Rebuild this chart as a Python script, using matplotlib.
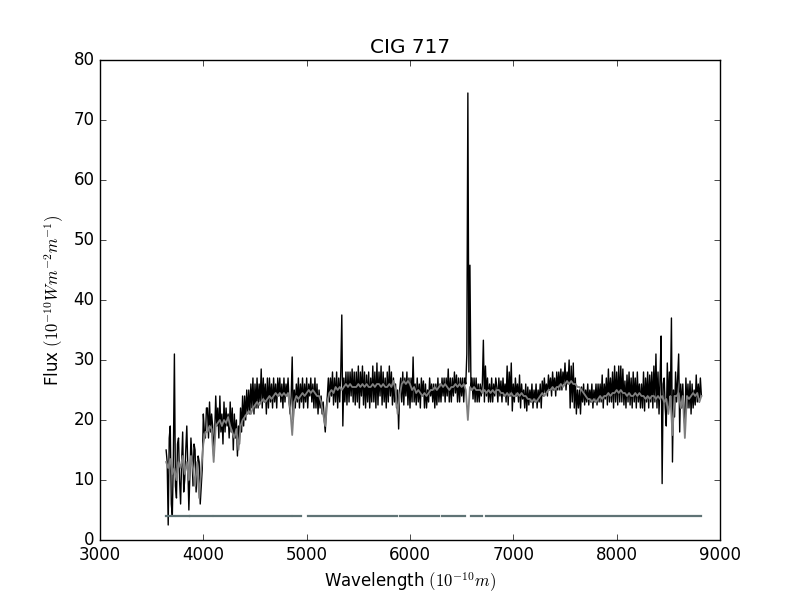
import numpy as np
import matplotlib
matplotlib.use("Agg")
import matplotlib.pyplot as plt

# -----------------------------
# DATA
# -----------------------------

title = "CIG 717"

# observed spectrum: sampled every 10 Angstrom from 3640
obs_start = 3640
obs_step = 10
flux_obs = [
    15, 13, 2.5, 17, 19, 6, 4, 14, 31, 9, 7, 16, 17, 10, 6, 13, 18, 8, 10, 15,                     # 3640
    19, 12, 5, 11, 17, 14, 9, 16, 15, 8, 11, 14, 13, 6, 9, 12, 21, 18, 17, 22,                      # 3840
    22, 17, 23, 18, 21, 19, 14, 18, 24, 19, 22, 17, 24, 18, 21, 16, 23, 18, 22, 19,                 # 4040
    21, 17, 23, 18, 22, 15, 21, 17, 20, 14, 19, 16, 22, 18, 24, 19, 24, 20, 25, 21,                 # 4240
    25, 21, 26, 22, 27, 21, 26, 22, 27, 22, 26, 23, 28.5, 22, 27, 23, 26, 21, 27, 22,               # 4440
    27, 23, 26, 22, 27, 23, 26, 22, 27, 24, 27, 23, 26, 22, 27, 23, 26, 24, 27, 23,                 # 4640
    21, 24, 30.5, 20, 25, 22, 26, 23, 27, 22, 26, 23, 27, 22, 26, 23, 27, 22, 26, 24,               # 4840
    27, 23, 26, 22, 27, 22, 26, 21, 25, 22, 24, 21, 23, 20, 18, 22, 24, 27, 23, 27,                 # 5040
    24, 28, 22.5, 27, 23, 28, 22, 27, 23, 28, 37.5, 19, 27, 23, 28, 22.5, 28, 23, 28, 24,           # 5240
    28.5, 23, 28, 22.5, 28, 23, 29, 22, 28, 24, 29, 22.5, 28, 22, 27.5, 23, 28, 22, 27, 23,         # 5440
    29, 23, 28, 22, 29.5, 22.5, 28, 24, 29, 22.5, 28, 23, 27, 22, 28, 23, 29, 24, 28, 22.5,         # 5640
    27, 23, 26, 22, 25, 18.5, 25, 27, 23, 28, 22.5, 27, 24, 28, 22.5, 27, 22, 27, 23, 30.5,         # 5840
    23, 26, 22.5, 27, 23, 26, 22, 27, 24, 26.5, 22, 26, 22, 25, 23, 27, 24, 26, 23, 26,             # 6040
    22, 26, 22.5, 27, 23, 26, 23, 27, 24, 27, 23, 27, 24, 28.5, 23, 27, 23, 27, 24, 28,             # 6240
    24.5, 27.5, 23, 27, 23, 27, 24, 27, 23, 27, 26, 31, 74.5, 28, 45.8, 25, 27, 23.5, 27, 23,       # 6440
    27, 23, 26, 23, 26, 24, 26, 33.3, 23, 29, 24, 27, 23, 26, 23, 27, 23, 26, 24, 27,               # 6640
    25.5, 23, 27, 24, 26.5, 23, 27, 24, 26, 23, 29, 22.5, 28, 24, 29.5, 21.5, 26, 23, 27, 24,       # 6840
    26, 23, 27.5, 22, 26, 23.5, 25, 22, 26, 21.5, 25.5, 22.5, 25, 23, 26, 22, 25, 23, 26, 22,       # 7040
    25, 23, 26, 22, 26.5, 24, 27, 24.5, 26, 24, 27.5, 25, 27, 24, 28, 25, 27, 24, 28, 25,           # 7240
    28, 25, 28.5, 25, 28, 26, 29.5, 25, 28, 26, 30, 22, 29, 23, 29.5, 22, 27, 21, 25, 22,           # 7440
    25, 21, 25.5, 23, 26, 22.5, 25, 23, 26, 22.5, 25, 23, 26, 22, 25, 23, 26, 22.5, 26, 23,         # 7640
    26, 23, 27.5, 22, 26, 23.5, 27, 22.5, 28.5, 23, 27, 23, 28, 22, 29, 23, 28, 22.5, 29, 23,       # 7840
    29, 23, 28.5, 22.5, 26.5, 22, 27.5, 23, 28, 22.5, 27, 22, 28, 23, 27, 22, 28, 23, 26, 22,       # 8040
    26, 22, 28, 21.5, 27, 23, 28, 22, 27.5, 23, 28, 22, 29, 23, 31, 22, 28, 21, 27, 34,             # 8240
    9.4, 26, 27, 22, 19, 29.5, 22, 28, 24, 37, 13, 25, 20.5, 28, 23, 27, 31, 18, 26, 22,            # 8440
    26, 21, 19, 27, 22, 26, 22, 26.5, 21, 26, 22, 25, 22.5, 27.5, 23, 26, 23, 27, 24,               # 8640
]

# synthetic (model) spectrum: sampled every 20 Angstrom from 3640
model_start = 3640
model_step = 20
flux_model = [
    13, 12, 13.5, 11, 12, 10, 13, 12, 14, 11,              # 3640
    13, 10, 14, 12, 9, 13, 7, 12, 16, 18,                  # 3840
    18, 19, 18.5, 13, 19, 19.5, 20, 19, 20, 19.5,          # 4040
    20.5, 19, 18, 17, 18.5, 15, 19, 20, 20.5, 21,          # 4240
    21.5, 21, 22, 22.5, 23, 22.5, 23, 23.5, 23, 23.5,      # 4440
    24, 23.5, 24, 24.5, 24, 24.5, 24, 24.5, 24, 24.5,      # 4640
    22, 17.5, 23, 24, 23.5, 24, 24.5, 24, 24.5, 25,        # 4840
    24.5, 25, 24.5, 24, 24, 23, 21, 19, 23, 24.5,          # 5040
    25, 24.5, 25.5, 25, 25.5, 25, 25.5, 26, 25.5, 26,      # 5240
    25.5, 25.5, 25.5, 26, 25.5, 26, 25.5, 26, 25.5, 25.5,  # 5440
    26, 25.5, 26, 26, 25.5, 26, 25.5, 25.5, 26, 25.5,      # 5640
    26.5, 25, 21, 24, 26, 26.5, 26, 26.5, 26, 25,          # 5840
    25.5, 24.5, 25, 24.5, 24, 24.5, 24, 24.5, 25, 25,      # 6040
    25.5, 25, 25.5, 26, 25.5, 26, 25.5, 25, 25.5, 25.5,    # 6240
    26, 25.5, 26, 25.5, 26, 25, 20, 25.5, 25, 25.5,        # 6440
    25, 25, 25, 24.5, 25, 24.5, 25, 24.5, 25, 24.5,        # 6640
    25, 25, 24.5, 24.5, 24, 24.5, 24, 24.5, 24, 24,        # 6840
    24.5, 24, 24.5, 24, 24, 23.5, 23.5, 23, 23.5, 23,      # 7040
    23.5, 24, 24.5, 24, 24.5, 25, 25, 25.5, 25, 25.5,      # 7240
    25.5, 26, 25.5, 26, 26.5, 26, 26.5, 26, 26, 25.5,      # 7440
    25.5, 25, 24.5, 24, 23.5, 23.5, 23, 23.5, 23, 23.5,    # 7640
    24, 23.5, 24, 24, 24.5, 24, 24.5, 24.5, 25, 24.5,      # 7840
    25, 24.5, 24.5, 24, 24.5, 24, 24, 24.5, 24, 24.5,      # 8040
    24, 24, 23.5, 24, 23.5, 24, 24, 23.5, 24, 23.5,        # 8240
    24, 23, 23.5, 21, 24, 17.5, 24, 24, 24.5, 22,          # 8440
    24, 17, 24, 23.5, 24, 24.5, 24, 24.5, 23, 24,          # 8640
]

# wavelength ranges used in the fit (drawn at flux = 4)
mask_level = 4
mask_ranges = [
    (3639, 3716), (3735, 3861), (3871, 4084), (4103, 4845),
    (4864, 4942), (5013, 5871), (5903, 6277), (6310, 6532),
    (6593, 6693), (6735, 8816),
]

# -----------------------------
# PLOT
# -----------------------------

plt.style.use("classic")

wave_obs = obs_start + obs_step * np.arange(len(flux_obs))
wave_model = model_start + model_step * np.arange(len(flux_model))

fig = plt.figure(figsize=(8, 6), dpi=100, facecolor="white")
ax = fig.add_subplot(111)

ax.plot(wave_obs, flux_obs, color="black", lw=1.0)
ax.plot(wave_model, flux_model, color="0.5", lw=1.3)

for w0, w1 in mask_ranges:
    ax.plot([w0, w1], [mask_level, mask_level], color="#5f7375", lw=1.6)

ax.set_xlim(3000, 9000)
ax.set_ylim(0, 80)
ax.set_title(title)
ax.set_xlabel(r"Wavelength $(10^{-10}m)$")
ax.set_ylabel(r"Flux $(10^{-10} Wm^{-2}m^{-1})$")

fig.savefig("out.png", dpi=100, facecolor="white")
